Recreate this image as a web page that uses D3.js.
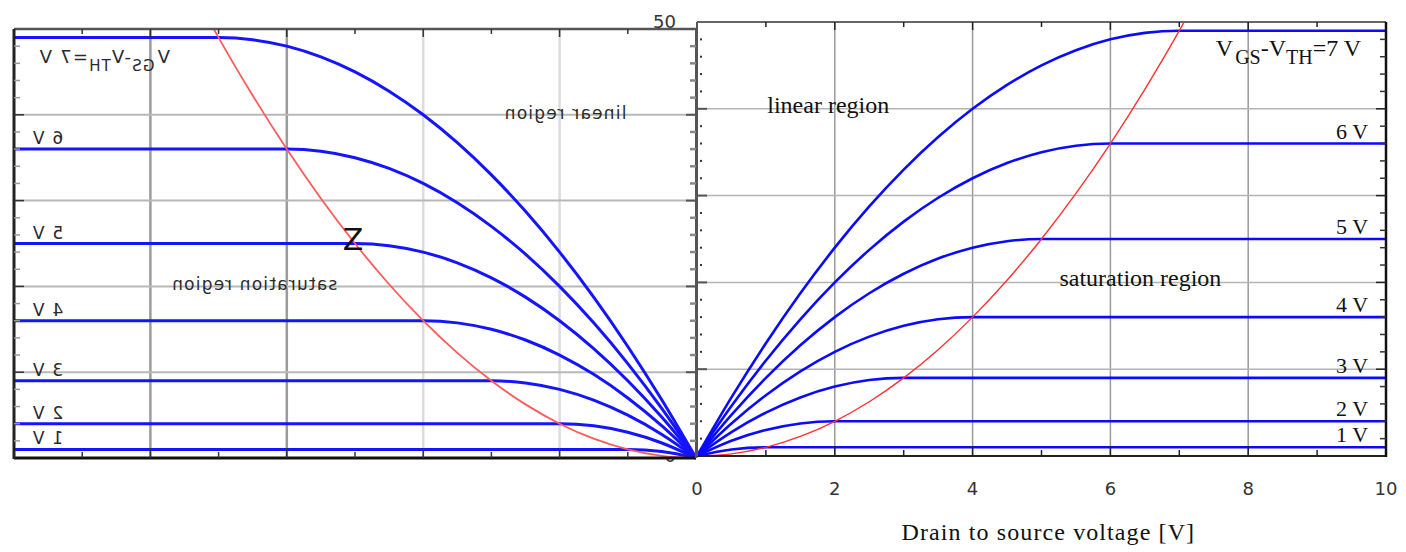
<!DOCTYPE html>
<html>
<head>
<meta charset="utf-8">
<script src="https://cdn.jsdelivr.net/npm/d3@7.9.0/dist/d3.min.js"></script>
<style>
  html, body { margin: 0; padding: 0; background: #fff; }
  svg { display: block; }
</style>
</head>
<body>
<svg id="chart" width="1406" height="552"></svg>
<script>
/* ---------------- Data ---------------- */

// drain-source voltage samples [V]
const vds = [0, 0.5, 1, 1.5, 2, 2.5, 3, 3.5, 4, 4.5, 5, 5.5, 6, 6.5, 7, 10];

// drain current for each overdrive voltage VGS-VTH (same samples as vds)
const id1V = [0, 0.75, 1, 1, 1, 1, 1, 1, 1, 1, 1, 1, 1, 1, 1, 1];
const id2V = [0, 1.75, 3, 3.75, 4, 4, 4, 4, 4, 4, 4, 4, 4, 4, 4, 4];
const id3V = [0, 2.75, 5, 6.75, 8, 8.75, 9, 9, 9, 9, 9, 9, 9, 9, 9, 9];
const id4V = [0, 3.75, 7, 9.75, 12, 13.75, 15, 15.75, 16, 16, 16, 16, 16, 16, 16, 16];
const id5V = [0, 4.75, 9, 12.75, 16, 18.75, 21, 22.75, 24, 24.75, 25, 25, 25, 25, 25, 25];
const id6V = [0, 5.75, 11, 15.75, 20, 23.75, 27, 29.75, 32, 33.75, 35, 35.75, 36, 36, 36, 36];
const id7V = [0, 6.75, 13, 18.75, 24, 28.75, 33, 36.75, 40, 42.75, 45, 46.75, 48, 48.75, 49, 49];

// linear / saturation boundary (red curve)
const edgeVds = [0, 0.5, 1, 1.5, 2, 2.5, 3, 3.5, 4, 4.5, 5, 5.5, 6, 6.5, 7, 7.07];
const edgeId  = [0, 0.25, 1, 2.25, 4, 6.25, 9, 12.25, 16, 20.25, 25, 30.25, 36, 42.25, 49, 50];

const overdrive = [1, 2, 3, 4, 5, 6, 7];
const satCurrent = [1, 4, 9, 16, 25, 36, 49];
const curveLabels = ['1 V', '2 V', '3 V', '4 V', '5 V', '6 V'];

const xTicks = [0, 2, 4, 6, 8, 10];
const yTicks = [0, 10, 20, 30, 40, 50];
const xTitle = 'Drain to source voltage [V]';

const series = [id1V, id2V, id3V, id4V, id5V, id6V, id7V];

/* ---------------- Panel builder ---------------- */

const svg = d3.select('#chart');

function drawPanel(g, x, y, o) {
    const x0 = x(0), x10 = x(10), y0 = y(0), y50 = y(50);

    if (o.bg) {
        g.append('rect')
            .attr('x', x0).attr('y', y50)
            .attr('width', x10 - x0).attr('height', y0 - y50)
            .attr('fill', '#fff');
    }

    // grid
    g.selectAll('line.vgrid')
        .data([2, 4, 6, 8])
        .join('line')
        .attr('class', 'vgrid')
        .attr('x1', d => x(d)).attr('x2', d => x(d))
        .attr('y1', y0).attr('y2', y50)
        .attr('stroke', d => o.vGrid(d))
        .attr('stroke-width', o.vGridW);

    g.selectAll('line.hgrid')
        .data([10, 20, 30, 40])
        .join('line')
        .attr('class', 'hgrid')
        .attr('x1', x0).attr('x2', x10)
        .attr('y1', d => y(d)).attr('y2', d => y(d))
        .attr('stroke', o.hGrid)
        .attr('stroke-width', o.hGridW);

    // curves
    const line = d3.line()
        .x(d => x(d[0]))
        .y(d => y(d[1]))
        .curve(d3.curveMonotoneX);

    g.selectAll('path.idcurve')
        .data(series)
        .join('path')
        .attr('class', 'idcurve')
        .attr('d', s => line(vds.map((v, i) => [v, s[i]])))
        .attr('fill', 'none')
        .attr('stroke', o.blue)
        .attr('stroke-width', o.blueW);

    g.append('path')
        .attr('d', line(edgeVds.map((v, i) => [v, edgeId[i]])))
        .attr('fill', 'none')
        .attr('stroke', o.red)
        .attr('stroke-width', o.redW);

    // frame
    const frame = [
        { x1: x0, x2: x10, y1: y50, y2: y50, c: o.topC, w: o.topW },
        { x1: x0, x2: x10, y1: y0, y2: y0, c: o.bottomC, w: o.bottomW },
        { x1: x0, x2: x0, y1: y0, y2: y50, c: o.zeroC, w: o.zeroW },
        { x1: x10, x2: x10, y1: y0 + 1, y2: y50, c: o.tenC, w: o.tenW },
    ];
    g.selectAll('line.frame')
        .data(frame)
        .join('line')
        .attr('class', 'frame')
        .attr('x1', d => d.x1).attr('x2', d => d.x2)
        .attr('y1', d => d.y1).attr('y2', d => d.y2)
        .attr('stroke', d => d.c)
        .attr('stroke-width', d => d.w);

    // ticks along x (top and bottom)
    const tk = g.append('g').attr('stroke', o.tickC).attr('stroke-width', 1.5);
    [1, 3, 5, 7, 9].forEach(v => {
        tk.append('line').attr('x1', x(v)).attr('x2', x(v)).attr('y1', y50).attr('y2', y50 + 5);
        tk.append('line').attr('x1', x(v)).attr('x2', x(v)).attr('y1', y0).attr('y2', y0 - 6);
    });
    [2, 4, 6, 8].forEach(v => {
        tk.append('line').attr('x1', x(v)).attr('x2', x(v)).attr('y1', y50).attr('y2', y50 + 8);
        tk.append('line').attr('x1', x(v)).attr('x2', x(v)).attr('y1', y0).attr('y2', y0 - 10);
    });

    // ticks along y (both sides)
    const minorY = d3.range(2, 50, 2).filter(v => v % 10 !== 0);
    minorY.forEach(v => {
        tk.append('line').attr('x1', x10).attr('x2', x10 - 6).attr('y1', y(v)).attr('y2', y(v))
            .attr('stroke', o.tenTickC);
        if (o.zeroTick === 'dot') {
            tk.append('rect').attr('x', x0 + 3).attr('y', y(v) - 1).attr('width', 2).attr('height', 2)
                .attr('stroke', 'none').attr('fill', '#333');
        } else {
            tk.append('line').attr('x1', x0).attr('x2', x0 + 6).attr('y1', y(v)).attr('y2', y(v))
                .attr('stroke', o.zeroTickC).attr('stroke-width', 2.5);
        }
    });
    [10, 20, 30, 40].forEach(v => {
        tk.append('line').attr('x1', x10).attr('x2', x10 - 10).attr('y1', y(v)).attr('y2', y(v));
        tk.append('line').attr('x1', x0).attr('x2', x0 + 10).attr('y1', y(v)).attr('y2', y(v))
            .attr('stroke', '#555').attr('stroke-width', 2);
    });

    // curve labels
    const lab = g.append('g')
        .attr('font-family', o.font)
        .attr('fill', o.textC)
        .attr('letter-spacing', o.spacing);

    lab.selectAll('text.vlabel')
        .data(curveLabels)
        .join('text')
        .attr('class', 'vlabel')
        .attr('x', x(9.74))
        .attr('y', (d, i) => y(satCurrent[i]) - 5)
        .attr('text-anchor', 'end')
        .attr('font-size', o.labelSize)
        .text(d => d);

    const top = lab.append('text')
        .attr('x', x(9.64))
        .attr('y', y(satCurrent[6]) + 25)
        .attr('text-anchor', 'end')
        .attr('font-size', o.topSize);
    top.append('tspan').text('V');
    top.append('tspan').attr('dx', 2).attr('dy', 8).attr('font-size', o.subSize).text('GS');
    top.append('tspan').attr('dy', -8).text('-V');
    top.append('tspan').attr('dy', 8).attr('font-size', o.subSize).text('TH');
    top.append('tspan').attr('dy', -8).text(`=${overdrive[6]} V`);

    lab.append('text')
        .attr('x', x(1.02)).attr('y', y(39.5))
        .attr('font-size', o.regionSize)
        .text('linear region');

    lab.append('text')
        .attr('x', x(5.26)).attr('y', y(19.6))
        .attr('font-size', o.regionSize)
        .text('saturation region');
}

/* ---------------- Right panel (normal) ---------------- */

const xR = d3.scaleLinear().domain([0, 10]).range([697, 1386]);
const yR = d3.scaleLinear().domain([0, 50]).range([456, 22]);

const right = svg.append('g');

// y tick labels (mostly hidden under the mirrored panel)
right.append('g')
    .attr('font-family', 'DejaVu Sans')
    .attr('font-size', 18)
    .attr('fill', '#333')
    .selectAll('text')
    .data(yTicks)
    .join('text')
    .attr('x', xR(0) - 21)
    .attr('y', d => yR(d) + 6)
    .attr('text-anchor', 'end')
    .text(d => d);

drawPanel(right, xR, yR, {
    bg: false,
    vGrid: () => '#9a9a9a', vGridW: 1.5,
    hGrid: '#b4b4b4', hGridW: 1.5,
    blue: '#0a0aff', blueW: 2.6,
    red: '#ff3030', redW: 1.4,
    topC: '#666', topW: 2,
    bottomC: '#222', bottomW: 2,
    zeroC: '#555', zeroW: 2,
    tenC: '#111', tenW: 2.5,
    tickC: '#222', tenTickC: '#333',
    zeroTick: 'dot',
    font: 'Liberation Serif', textC: '#111', spacing: 0,
    labelSize: 22, topSize: 24, subSize: 20, regionSize: 24,
});

// x axis tick labels and title
right.append('g')
    .attr('font-family', 'DejaVu Sans')
    .attr('font-size', 18)
    .attr('fill', '#333')
    .selectAll('text')
    .data(xTicks)
    .join('text')
    .attr('x', d => xR(d))
    .attr('y', yR(0) + 39)
    .attr('text-anchor', 'middle')
    .text(d => d);

right.append('text')
    .attr('x', xR(5.1))
    .attr('y', yR(0) + 84)
    .attr('text-anchor', 'middle')
    .attr('font-family', 'Liberation Serif')
    .attr('font-size', 24)
    .attr('letter-spacing', 1.1)
    .attr('fill', '#111')
    .text(xTitle);

/* ---------------- Left panel (mirrored copy) ---------------- */

const xL = d3.scaleLinear().domain([0, 10]).range([14, 696]);
const yL = d3.scaleLinear().domain([0, 50]).range([458, 29]);
const MIRROR = 710;

const left = svg.append('g').attr('transform', `translate(${MIRROR},0) scale(-1,1)`);

drawPanel(left, xL, yL, {
    bg: true,
    vGrid: d => (d <= 4 ? '#dcdcdc' : '#9c9c9c'), vGridW: 2.5,
    hGrid: '#b8b8b8', hGridW: 2,
    blue: '#1414ff', blueW: 3,
    red: '#ff5a5a', redW: 1.8,
    topC: '#555', topW: 2.5,
    bottomC: '#111', bottomW: 3,
    zeroC: '#555', zeroW: 2,
    tenC: '#222', tenW: 3,
    tickC: '#333', tenTickC: '#999',
    zeroTick: 'dash', zeroTickC: '#888',
    font: 'DejaVu Sans', textC: '#2a2a2a', spacing: 1.2,
    labelSize: 17, topSize: 18, subSize: 15, regionSize: 17,
});

// unmirrored "Z" mark on the mirrored panel
svg.append('text')
    .attr('x', MIRROR - xL(5.03))
    .attr('y', yL(24.2))
    .attr('text-anchor', 'middle')
    .attr('font-family', 'DejaVu Sans')
    .attr('font-size', 30)
    .attr('fill', '#111')
    .text('Z');
</script>
</body>
</html>
